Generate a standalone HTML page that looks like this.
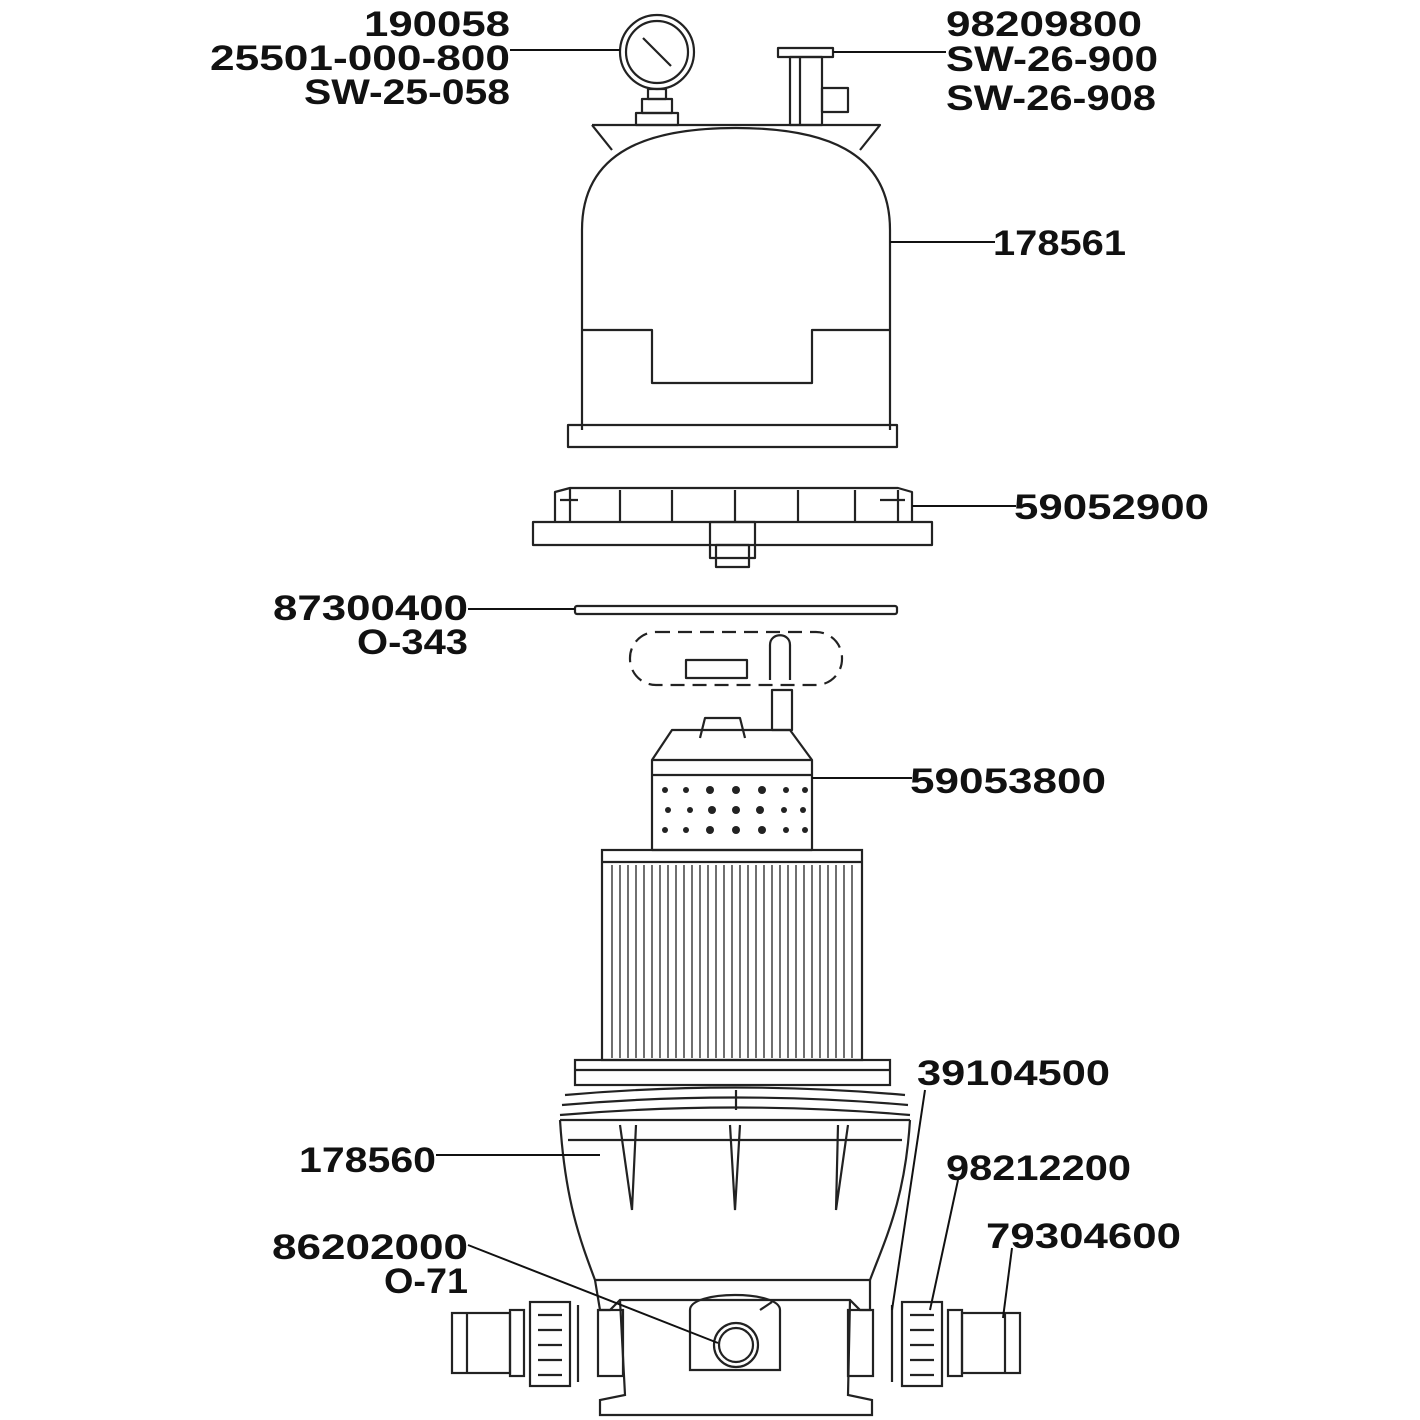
<!DOCTYPE html>
<html><head><meta charset="utf-8"><style>
html,body{margin:0;padding:0;background:#fff;}
svg{display:block;}
text{font-family:"Liberation Sans",sans-serif;font-weight:bold;font-size:35px;fill:#111;}
</style></head><body>
<svg width="1420" height="1420" viewBox="0 0 1420 1420" xmlns="http://www.w3.org/2000/svg">
<g fill="none" stroke="#222" stroke-width="2.2" stroke-linejoin="round">
<!-- gauge -->
<circle cx="657" cy="52" r="37"/><circle cx="657" cy="52" r="31"/>
<line x1="643" y1="38" x2="671" y2="66"/>
<rect x="648" y="89" width="18" height="10"/>
<rect x="642" y="99" width="30" height="14"/>
<rect x="636" y="113" width="42" height="12"/>
<!-- valve -->
<rect x="778" y="48" width="55" height="9"/>
<rect x="790" y="57" width="32" height="68"/>
<rect x="822" y="88" width="26" height="24"/>
<line x1="800" y1="57" x2="800" y2="125"/>
<!-- tank lid -->
<path d="M592 125 L880 125 L860 150 M592 125 L612 150"/>
<path d="M582 430 L582 230 C582 150 650 128 736 128 C822 128 890 150 890 230 L890 430"/>
<path d="M582 330 L652 330 L652 383 L812 383 L812 330 L890 330"/>
<rect x="568" y="425" width="329" height="22"/>
<!-- ring 59052900 -->
<path d="M555 522 L555 492 L570 488 L898 488 L912 492 L912 522"/>
<path d="M570 488 L570 522 M620 490 L620 522 M672 490 L672 522 M735 490 L735 522 M798 490 L798 522 M855 490 L855 522 M898 490 L898 522"/>
<path d="M560 500 L578 500 M880 500 L905 500"/>
<rect x="533" y="522" width="399" height="23"/>
<rect x="710" y="522" width="45" height="36"/>
<rect x="716" y="545" width="33" height="22"/>
<!-- o-ring -->
<rect x="575" y="606" width="322" height="8" rx="2"/>
<!-- dashed group -->
<rect x="630" y="632" width="212" height="53" rx="26" stroke-dasharray="14 8"/>
<rect x="686" y="660" width="61" height="18"/>
<path d="M770 680 L770 645 C770 632 790 632 790 645 L790 680"/>
<!-- manifold -->
<rect x="772" y="690" width="20" height="40"/>
<path d="M652 760 L652 850 L812 850 L812 760 L790 730 L672 730 Z"/>
<path d="M700 738 L705 718 L740 718 L745 738"/>
<line x1="652" y1="760" x2="812" y2="760"/>
<line x1="652" y1="775" x2="812" y2="775"/>
</g>
<g fill="#222">
<circle cx="665" cy="790" r="3"/><circle cx="686" cy="790" r="3"/><circle cx="710" cy="790" r="4"/><circle cx="736" cy="790" r="4"/><circle cx="762" cy="790" r="4"/><circle cx="786" cy="790" r="3"/><circle cx="805" cy="790" r="3"/>
<circle cx="668" cy="810" r="3"/><circle cx="690" cy="810" r="3"/><circle cx="712" cy="810" r="4"/><circle cx="736" cy="810" r="4"/><circle cx="760" cy="810" r="4"/><circle cx="784" cy="810" r="3"/><circle cx="803" cy="810" r="3"/>
<circle cx="665" cy="830" r="3"/><circle cx="686" cy="830" r="3"/><circle cx="710" cy="830" r="4"/><circle cx="736" cy="830" r="4"/><circle cx="762" cy="830" r="4"/><circle cx="786" cy="830" r="3"/><circle cx="805" cy="830" r="3"/>
</g>
<g fill="none" stroke="#222" stroke-width="2.2">
<!-- cartridge -->
<rect x="602" y="850" width="260" height="210"/>
<line x1="602" y1="862" x2="862" y2="862"/>
<path stroke-width="1.3" d="M612 865V1058M620 865V1058M628 865V1058M636 865V1058M644 865V1058M652 865V1058M660 865V1058M668 865V1058M676 865V1058M684 865V1058M692 865V1058M700 865V1058M708 865V1058M716 865V1058M724 865V1058M732 865V1058M740 865V1058M748 865V1058M756 865V1058M764 865V1058M772 865V1058M780 865V1058M788 865V1058M796 865V1058M804 865V1058M812 865V1058M820 865V1058M828 865V1058M836 865V1058M844 865V1058M852 865V1058"/>
<!-- tank base -->
<rect x="575" y="1060" width="315" height="25"/>
<line x1="575" y1="1070" x2="890" y2="1070"/>
<path d="M565 1095 Q736 1080 905 1095 M562 1105 Q736 1090 908 1105 M560 1115 Q736 1100 910 1115"/>
<path d="M560 1120 L910 1120"/>
<path d="M560 1120 C565 1200 580 1240 595 1280 L870 1280 C885 1240 905 1200 910 1120"/>
<line x1="568" y1="1140" x2="902" y2="1140"/>
<path d="M620 1125 L632 1210 L636 1125 M730 1125 L735 1210 L740 1125 M838 1125 L836 1210 L848 1125"/>
<line x1="736" y1="1090" x2="736" y2="1110"/>
<path d="M595 1280 L600 1310 L610 1310 L620 1300 L850 1300 L860 1310 L870 1310 L870 1280"/>
<path d="M620 1300 L625 1395 L600 1400 L600 1415 L872 1415 L872 1400 L848 1395 L850 1300"/>
<path d="M690 1310 C690 1290 780 1290 780 1310 L780 1370 L690 1370 Z"/>
<circle cx="736" cy="1345" r="22"/><circle cx="736" cy="1345" r="17"/>
<line x1="760" y1="1310" x2="772" y2="1302"/>
<!-- left union -->
<rect x="452" y="1313" width="58" height="60"/>
<line x1="467" y1="1313" x2="467" y2="1373"/>
<rect x="510" y="1310" width="14" height="66"/>
<rect x="530" y="1302" width="40" height="84"/>
<path d="M538 1315h24M538 1330h24M538 1345h24M538 1360h24M538 1375h24"/>
<line x1="578" y1="1305" x2="578" y2="1382"/>
<rect x="598" y="1310" width="25" height="66"/>
<!-- right union -->
<rect x="848" y="1310" width="25" height="66"/>
<line x1="892" y1="1305" x2="892" y2="1382"/>
<rect x="902" y="1302" width="40" height="84"/>
<path d="M910 1315h24M910 1330h24M910 1345h24M910 1360h24M910 1375h24"/>
<rect x="948" y="1310" width="14" height="66"/>
<rect x="962" y="1313" width="58" height="60"/>
<line x1="1005" y1="1313" x2="1005" y2="1373"/>
</g>
<!-- leaders -->
<g stroke="#111" stroke-width="2" fill="none">
<line x1="510" y1="50" x2="620" y2="50"/>
<line x1="833" y1="52" x2="946" y2="52"/>
<line x1="890" y1="242" x2="995" y2="242"/>
<line x1="912" y1="506" x2="1016" y2="506"/>
<line x1="468" y1="609" x2="575" y2="609"/>
<line x1="812" y1="778" x2="912" y2="778"/>
<line x1="925" y1="1090" x2="892" y2="1310"/>
<line x1="436" y1="1155" x2="600" y2="1155"/>
<line x1="958" y1="1180" x2="930" y2="1310"/>
<line x1="468" y1="1245" x2="718" y2="1343"/>
<line x1="1012" y1="1248" x2="1003" y2="1318"/>
</g>
<g>
<text x="510" y="36" text-anchor="end" textLength="146" lengthAdjust="spacingAndGlyphs">190058</text>
<text x="510" y="70" text-anchor="end" textLength="300" lengthAdjust="spacingAndGlyphs">25501-000-800</text>
<text x="510" y="104" text-anchor="end" textLength="206" lengthAdjust="spacingAndGlyphs">SW-25-058</text>
<text x="946" y="36" textLength="196" lengthAdjust="spacingAndGlyphs">98209800</text>
<text x="946" y="71" textLength="212" lengthAdjust="spacingAndGlyphs">SW-26-900</text>
<text x="946" y="110" textLength="210" lengthAdjust="spacingAndGlyphs">SW-26-908</text>
<text x="993" y="255" textLength="133" lengthAdjust="spacingAndGlyphs">178561</text>
<text x="1014" y="519" textLength="195" lengthAdjust="spacingAndGlyphs">59052900</text>
<text x="468" y="620" text-anchor="end" textLength="195" lengthAdjust="spacingAndGlyphs">87300400</text>
<text x="468" y="654" text-anchor="end" textLength="111" lengthAdjust="spacingAndGlyphs">O-343</text>
<text x="910" y="793" textLength="196" lengthAdjust="spacingAndGlyphs">59053800</text>
<text x="917" y="1085" textLength="193" lengthAdjust="spacingAndGlyphs">39104500</text>
<text x="436" y="1172" text-anchor="end" textLength="137" lengthAdjust="spacingAndGlyphs">178560</text>
<text x="946" y="1180" textLength="185" lengthAdjust="spacingAndGlyphs">98212200</text>
<text x="468" y="1259" text-anchor="end" textLength="196" lengthAdjust="spacingAndGlyphs">86202000</text>
<text x="468" y="1293" text-anchor="end" textLength="84" lengthAdjust="spacingAndGlyphs">O-71</text>
<text x="986" y="1248" textLength="195" lengthAdjust="spacingAndGlyphs">79304600</text>
</g>
</svg>
</body></html>
